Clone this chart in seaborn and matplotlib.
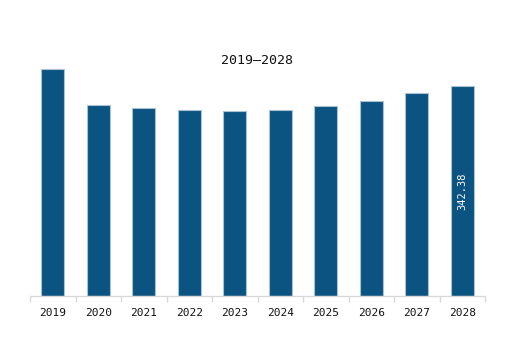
import numpy as np
import pandas as pd
import matplotlib
matplotlib.use("Agg")
import matplotlib.pyplot as plt
import seaborn as sns

# Data
years = ["2019", "2020", "2021", "2022", "2023", "2024", "2025", "2026", "2027", "2028"]
values = [369.6, 311.0, 306.0, 302.3, 300.7, 302.8, 308.8, 317.5, 330.5, 342.38]
title = "2019\u20132028"
label_year = "2028"

df = pd.DataFrame({"year": years, "value": values})

sns.set_style("white")
plt.rcParams['font.family'] = ['DejaVu Sans Mono', 'DejaVu Sans']

fig = plt.figure(figsize=(5.31, 3.53), dpi=100)
# axes placed to match the reference layout (pixels: x 30..485, baseline y 296)
ax = fig.add_axes([30 / 531, (353 - 296) / 353, 455 / 531, 256 / 353])

sns.barplot(data=df, x="year", y="value", color="#0b5381", saturation=1,
            width=0.5, edgecolor="#a9c1d1", linewidth=0.8, ax=ax)

ax.set_xlim(-0.5, len(years) - 0.5)
ax.set_ylim(0, 416.8)
ax.set_xlabel("")
ax.set_ylabel("")
ax.set_yticks([])
for side in ["top", "right", "left"]:
    ax.spines[side].set_visible(False)
ax.spines["bottom"].set_color("#d9d9d9")
ax.spines["bottom"].set_linewidth(1)

# ticks sit between categories
ax.set_xticks(np.arange(len(years) + 1) - 0.5, minor=True)
ax.tick_params(axis="x", which="minor", bottom=True, length=4, color="#d9d9d9",
               width=1, direction="out")
ax.tick_params(axis="x", which="major", bottom=False, length=0, labelsize=8,
               pad=9, labelcolor="#111111")

ax.set_title(title, fontsize=9.5, color="#111111", pad=0, y=(296 - 56) / 256 - 0.03)

idx = years.index(label_year)
val = values[idx]
ax.text(idx, val / 2, f"{val:.2f}", rotation=90, ha="center", va="center",
        color="white", fontsize=7.5)

fig.savefig("out.png", dpi=100)
